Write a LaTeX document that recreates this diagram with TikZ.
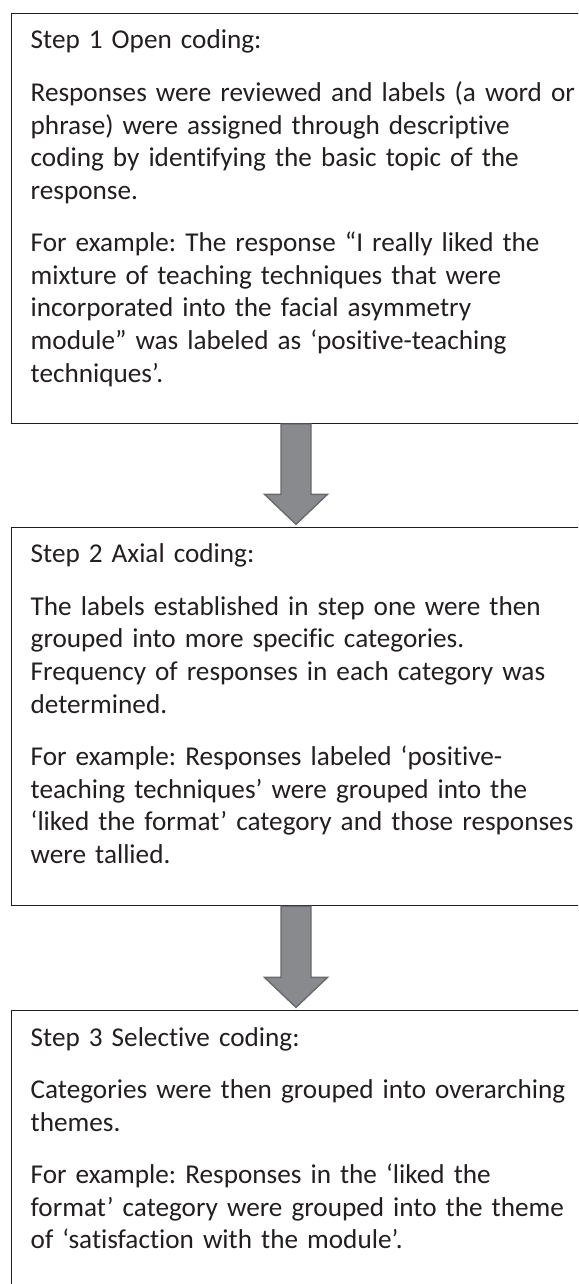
\documentclass[tikz,border=0pt]{standalone}
\usepackage{fontspec}
\setmainfont{Carlito}[Ligatures={NoCommon}]
\usetikzlibrary{calc}
\definecolor{linec}{HTML}{1E1E1E}
\definecolor{txtc}{HTML}{231F20}
\definecolor{arrfill}{HTML}{898A8D}
\definecolor{arrline}{HTML}{6A6B6E}
\tikzset{
  stepbox/.style={draw=linec, line width=1.3pt, rectangle, inner sep=0pt, anchor=north west, minimum width=580pt},
  steptext/.style={anchor=base west, inner sep=0pt, align=left, text width=560pt, text=txtc,
    font=\fontsize{27.2pt}{32.6pt}\selectfont\frenchspacing},
  bigarrow/.style={fill=arrfill, draw=arrline, line width=1.4pt, line join=miter}
}
\newcommand{\pgap}{\\[19.9pt]}
\begin{document}
\begin{tikzpicture}[x=1pt,y=1pt]
\useasboundingbox (0,0) rectangle (578,-1284);
\clip (0,0) rectangle (578,-1284);
\fill[white] (0,0) rectangle (578,-1284);
% boxes
\node[stepbox, minimum height=410pt] (b1) at (10.5,-12.7) {};
\node[stepbox, minimum height=378.3pt] (b2) at (10.5,-526.7) {};
\node[stepbox, minimum height=300pt] (b3) at (10.5,-1010) {};
% texts
\node[steptext] (t1) at ($(b1.north west)+(20,-36.3)$) {Step 1 Open coding:\pgap
Responses were reviewed and labels (a word or\\
phrase) were assigned through descriptive\\
coding by identifying the basic topic of the\\
response.\pgap
For example: The response “I really liked the\\
mixture of teaching techniques that were\\
incorporated into the facial asymmetry\\
module” was labeled as ‘positive-teaching\\
techniques’.};
\node[steptext] (t2) at ($(b2.north west)+(20,-36)$) {Step 2 Axial coding:\pgap
The labels established in step one were then\\
grouped into more specific categories.\\
Frequency of responses in each category was\\
determined.\pgap
For example: Responses labeled ‘positive-\\
teaching techniques’ were grouped into the\\
‘liked the format’ category and those responses\\
were tallied.};
\node[steptext] (t3) at ($(b3.north west)+(20,-36)$) {Step 3 Selective coding:\pgap
Categories were then grouped into overarching\\
themes.\pgap
For example: Responses in the ‘liked the\\
format’ category were grouped into the theme\\
of ‘satisfaction with the module’.};
% arrows
\coordinate (s1) at ($(b1.south west)+(285.5,0)$);
\coordinate (e1) at ($(s1 |- b2.north)+(0,2.4)$);
\draw[bigarrow] ($(s1)+(-15,0)$) -- ($(e1)+(-15,30)$) -- ($(e1)+(-31.5,30)$) -- (e1)
  -- ($(e1)+(31.5,30)$) -- ($(e1)+(15,30)$) -- ($(s1)+(15,0)$) -- cycle;
\coordinate (s2) at ($(b2.south west)+(285.5,0)$);
\coordinate (e2) at ($(s2 |- b3.north)+(0,2.6)$);
\draw[bigarrow] ($(s2)+(-15,0)$) -- ($(e2)+(-15,30)$) -- ($(e2)+(-31.5,30)$) -- (e2)
  -- ($(e2)+(31.5,30)$) -- ($(e2)+(15,30)$) -- ($(s2)+(15,0)$) -- cycle;
\end{tikzpicture}
\end{document}
